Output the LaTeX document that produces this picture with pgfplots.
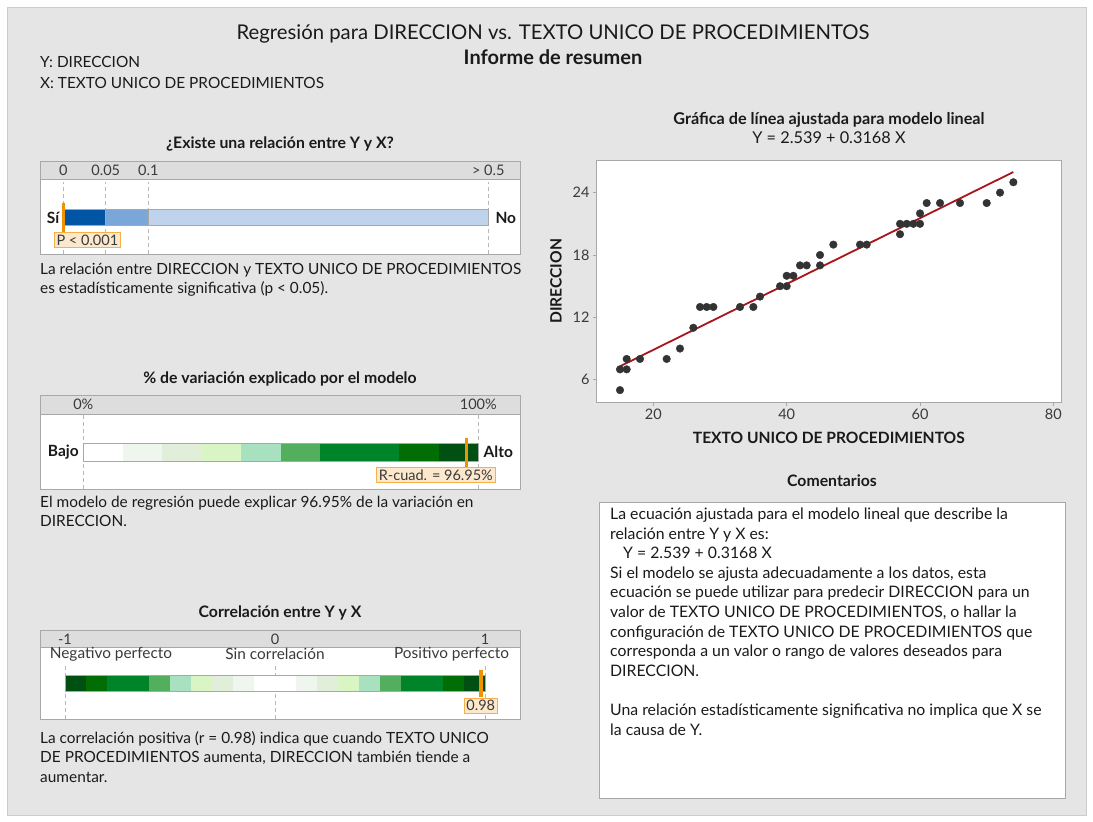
\documentclass[border=0pt]{standalone}
\usepackage{fontspec}
\setmainfont{Lato}
\usepackage{pgfplots}
\pgfplotsset{compat=1.18}
\definecolor{panel}{HTML}{E5E5E5}
\definecolor{panelline}{HTML}{CCCCCC}
\definecolor{hdr}{HTML}{DDDDDD}
\definecolor{boxline}{HTML}{A8A8A8}
\definecolor{dashc}{HTML}{B8B8B8}
\definecolor{txt}{HTML}{1A1A1A}
\definecolor{tk}{HTML}{3A3A3A}
\definecolor{mk}{HTML}{F39200}
\definecolor{mkfill}{HTML}{FCE8CC}
\definecolor{mkline}{HTML}{F6B04A}
\definecolor{bA}{HTML}{0055A5}
\definecolor{bB}{HTML}{7BA6D8}
\definecolor{bC}{HTML}{BFD3EC}
\definecolor{gA}{HTML}{EFF6EE}
\definecolor{gB}{HTML}{E1EEDA}
\definecolor{gC}{HTML}{D9F5C4}
\definecolor{gD}{HTML}{A7E1BF}
\definecolor{gE}{HTML}{53AF5D}
\definecolor{gF}{HTML}{00842A}
\definecolor{gG}{HTML}{006D05}
\definecolor{gH}{HTML}{005014}
\definecolor{ptc}{HTML}{333333}
\definecolor{fitc}{HTML}{A8151B}
\newcommand\fs[1]{\fontsize{#1}{#1}\selectfont}
\pgfplotsset{
  gauge/.style={scale only axis, anchor=south west, axis on top, xtick=\empty, ytick=\empty,
    axis line style={draw=boxline, line width=0.8pt}, axis background/.style={fill=white}, clip=false},
  dsh/.style={dashc, dash pattern=on 4pt off 3pt, line width=0.8pt},
  seg/.style={fill=#1, draw=none},
  hd/.style={fill=hdr, draw=boxline, line width=0.8pt},
  bo/.style={draw=boxline, line width=0.8pt, fill=none},
}
\tikzset{
  lab/.style={draw=mkline, fill=mkfill, line width=0.8pt, font=\fs{14.5}, text=tk, inner xsep=2.5pt, inner ysep=1pt, minimum height=15pt},
  tl/.style={font=\fs{14.5}, text=tk, inner sep=0pt},
  bt/.style={font=\bfseries\fs{15.5}, text=txt, inner sep=0pt},
  body/.style={anchor=base west, inner sep=0pt, font=\fs{15.4}, text=txt},
  cbody/.style={anchor=base west, inner sep=0pt, font=\fs{15.8}, text=txt},
  head/.style={anchor=base, inner sep=0pt, font=\bfseries\fs{15.8}, text=txt},
}
\begin{document}
\begin{tikzpicture}
\fill[white] (0pt,0pt) rectangle (1093pt,-822pt);
\filldraw[fill=panel, draw=panelline] (7pt,-7pt) rectangle (1086pt,-815pt);
\begin{scope}[x=1pt,y=-1pt]
\node[anchor=base, inner sep=0pt, font=\fs{20.3}, text=txt] at (553,39.5) {Regresión para DIRECCION vs. TEXTO UNICO DE PROCEDIMIENTOS};
\node[anchor=base, inner sep=0pt, font=\bfseries\fs{20}, text=txt] at (553,64.5) {Informe de resumen};
\node[body] at (40,67.5) {Y: DIRECCION};
\node[body] at (40,88.5) {X: TEXTO UNICO DE PROCEDIMIENTOS};
\node[head] at (280,148.5) {¿Existe una relación entre Y y X?};
\node[head] at (280,383.5) {\% de variación explicado por el modelo};
\node[head] at (280,617.5) {Correlación entre Y y X};
\node[head] at (832,486.5) {Comentarios};
\node[head, font=\bfseries\fs{16.2}] at (829,124.5) {Gráfica de línea ajustada para modelo lineal};
\node[anchor=base, inner sep=0pt, font=\fs{16.3}, text=txt] at (829,143.5) {Y = 2.539 + 0.3168 X};
\node[body] at (40,274) {La relación entre DIRECCION y TEXTO UNICO DE PROCEDIMIENTOS};
\node[body] at (40,293) {es estadísticamente significativa (p < 0.05).};
\node[body] at (40,507.5) {El modelo de regresión puede explicar 96.95\% de la variación en};
\node[body] at (40,526.5) {DIRECCION.};
\node[body] at (40,743) {La correlación positiva (r = 0.98) indica que cuando TEXTO UNICO};
\node[body] at (40,762.6) {DE PROCEDIMIENTOS aumenta, DIRECCION también tiende a};
\node[body] at (40,782.2) {aumentar.};
\filldraw[fill=white, draw=boxline, line width=0.8pt] (599,502) rectangle (1065,798);
\node[cbody] at (610,519.5) {La ecuación ajustada para el modelo lineal que describe la};
\node[cbody] at (610,539.1) {relación entre Y y X es:};
\node[cbody] at (623,558.7) {Y = 2.539 + 0.3168 X};
\node[cbody] at (610,578.3) {Si el modelo se ajusta adecuadamente a los datos, esta};
\node[cbody] at (610,597.9) {ecuación se puede utilizar para predecir DIRECCION para un};
\node[cbody] at (610,617.5) {valor de TEXTO UNICO DE PROCEDIMIENTOS, o hallar la};
\node[cbody] at (610,637.1) {configuración de TEXTO UNICO DE PROCEDIMIENTOS que};
\node[cbody] at (610,656.7) {corresponda a un valor o rango de valores deseados para};
\node[cbody] at (610,676.3) {DIRECCION.};
\node[cbody] at (610,715.5) {Una relación estadísticamente significativa no implica que X se};
\node[cbody] at (610,735.1) {la causa de Y.};
\end{scope}

% Gauge 1: p-value
\begin{axis}[gauge, at={(40pt,-254pt)}, width=480pt, height=93pt,
  xmin=-0.027412, xmax=0.537294, ymin=0, ymax=93]
\addplot[hd] coordinates {(-0.027412,75)(0.537294,75)(0.537294,93)(-0.027412,93)} -- cycle;
\addplot[dsh] coordinates {(0,0)(0,72)};
\addplot[dsh] coordinates {(0.05,0)(0.05,72)};
\addplot[dsh] coordinates {(0.1,0)(0.1,72)};
\addplot[dsh] coordinates {(0.5,0)(0.5,72)};
\addplot[fill=bA, draw=boxline, line width=0.8pt] coordinates {(0,28.3)(0.05,28.3)(0.05,44.7)(0,44.7)} -- cycle;
\addplot[fill=bB, draw=boxline, line width=0.8pt] coordinates {(0.05,28.3)(0.1,28.3)(0.1,44.7)(0.05,44.7)} -- cycle;
\addplot[fill=bC, draw=boxline, line width=0.8pt] coordinates {(0.1,28.3)(0.5,28.3)(0.5,44.7)(0.1,44.7)} -- cycle;
\addplot[mk, line width=3.5pt] coordinates {(0,22.3)(0,51.3)};
\node[lab] at (axis cs:0.0283,13.8) {P < 0.001};
\node[bt] at (axis cs:-0.0121,36.5) {Sí};
\node[bt] at (axis cs:0.5206,36.5) {No};
\node[tl] at (axis cs:0,84) {0};
\node[tl] at (axis cs:0.05,84) {0.05};
\node[tl] at (axis cs:0.1,84) {0.1};
\node[tl] at (axis cs:0.5,84) {> 0.5};
\end{axis}

% Gauge 2: R-squared
\begin{axis}[gauge, at={(40pt,-489pt)}, width=480pt, height=94pt,
  xmin=-10.962, xmax=110.557, ymin=0, ymax=94]
\addplot[hd] coordinates {(-10.962,75)(110.557,75)(110.557,94)(-10.962,94)} -- cycle;
\addplot[dsh] coordinates {(0,0)(0,75)};
\addplot[dsh] coordinates {(100,0)(100,75)};
\addplot[seg=white] coordinates {(0,28)(10,28)(10,45.7)(0,45.7)} -- cycle;
\addplot[seg=gA] coordinates {(10,28)(20,28)(20,45.7)(10,45.7)} -- cycle;
\addplot[seg=gB] coordinates {(20,28)(30,28)(30,45.7)(20,45.7)} -- cycle;
\addplot[seg=gC] coordinates {(30,28)(40,28)(40,45.7)(30,45.7)} -- cycle;
\addplot[seg=gD] coordinates {(40,28)(50,28)(50,45.7)(40,45.7)} -- cycle;
\addplot[seg=gE] coordinates {(50,28)(60,28)(60,45.7)(50,45.7)} -- cycle;
\addplot[seg=gF] coordinates {(60,28)(80,28)(80,45.7)(60,45.7)} -- cycle;
\addplot[seg=gG] coordinates {(80,28)(90,28)(90,45.7)(80,45.7)} -- cycle;
\addplot[seg=gH] coordinates {(90,28)(100,28)(100,45.7)(90,45.7)} -- cycle;
\addplot[bo] coordinates {(0,28)(100,28)(100,45.7)(0,45.7)} -- cycle;
\addplot[mk, line width=3.5pt] coordinates {(96.95,21.3)(96.95,51.3)};
\node[lab] at (axis cs:89.25,13.8) {R-cuad. = 96.95\%};
\node[bt] at (axis cs:-5.06,37) {Bajo};
\node[bt] at (axis cs:105.06,37) {Alto};
\node[tl] at (axis cs:0,84.5) {0\%};
\node[tl] at (axis cs:100,84.5) {100\%};
\end{axis}

% Gauge 3: correlation
\begin{axis}[gauge, at={(40pt,-719pt)}, width=480pt, height=89pt,
  xmin=-1.11905, xmax=1.16667, ymin=0, ymax=89]
\addplot[hd] coordinates {(-1.11905,71.3)(1.16667,71.3)(1.16667,89)(-1.11905,89)} -- cycle;
\addplot[dsh] coordinates {(-1,0)(-1,53.3)};
\addplot[dsh] coordinates {(0,0)(0,53.3)};
\addplot[dsh] coordinates {(1,0)(1,53.3)};
\addplot[seg=gH] coordinates {(-1,27.3)(-0.9,27.3)(-0.9,43.3)(-1,43.3)} -- cycle;
\addplot[seg=gG] coordinates {(-0.9,27.3)(-0.8,27.3)(-0.8,43.3)(-0.9,43.3)} -- cycle;
\addplot[seg=gF] coordinates {(-0.8,27.3)(-0.6,27.3)(-0.6,43.3)(-0.8,43.3)} -- cycle;
\addplot[seg=gE] coordinates {(-0.6,27.3)(-0.5,27.3)(-0.5,43.3)(-0.6,43.3)} -- cycle;
\addplot[seg=gD] coordinates {(-0.5,27.3)(-0.4,27.3)(-0.4,43.3)(-0.5,43.3)} -- cycle;
\addplot[seg=gC] coordinates {(-0.4,27.3)(-0.3,27.3)(-0.3,43.3)(-0.4,43.3)} -- cycle;
\addplot[seg=gB] coordinates {(-0.3,27.3)(-0.2,27.3)(-0.2,43.3)(-0.3,43.3)} -- cycle;
\addplot[seg=gA] coordinates {(-0.2,27.3)(-0.1,27.3)(-0.1,43.3)(-0.2,43.3)} -- cycle;
\addplot[seg=white] coordinates {(-0.1,27.3)(0.1,27.3)(0.1,43.3)(-0.1,43.3)} -- cycle;
\addplot[seg=gA] coordinates {(0.1,27.3)(0.2,27.3)(0.2,43.3)(0.1,43.3)} -- cycle;
\addplot[seg=gB] coordinates {(0.2,27.3)(0.3,27.3)(0.3,43.3)(0.2,43.3)} -- cycle;
\addplot[seg=gC] coordinates {(0.3,27.3)(0.4,27.3)(0.4,43.3)(0.3,43.3)} -- cycle;
\addplot[seg=gD] coordinates {(0.4,27.3)(0.5,27.3)(0.5,43.3)(0.4,43.3)} -- cycle;
\addplot[seg=gE] coordinates {(0.5,27.3)(0.6,27.3)(0.6,43.3)(0.5,43.3)} -- cycle;
\addplot[seg=gF] coordinates {(0.6,27.3)(0.8,27.3)(0.8,43.3)(0.6,43.3)} -- cycle;
\addplot[seg=gG] coordinates {(0.8,27.3)(0.9,27.3)(0.9,43.3)(0.8,43.3)} -- cycle;
\addplot[seg=gH] coordinates {(0.9,27.3)(1,27.3)(1,43.3)(0.9,43.3)} -- cycle;
\addplot[bo] coordinates {(-1,27.3)(1,27.3)(1,43.3)(-1,43.3)} -- cycle;
\addplot[mk, line width=3.5pt] coordinates {(0.98,22.3)(0.98,49)};
\node[lab] at (axis cs:0.98,13.5) {0.98};
\node[tl] at (axis cs:-1,80.2) {-1};
\node[tl] at (axis cs:0,80.2) {0};
\node[tl] at (axis cs:1,80.2) {1};
\node[tl, font=\fs{15.4}] at (axis cs:-0.781,64.7) {Negativo perfecto};
\node[tl, font=\fs{15.4}] at (axis cs:0,64.7) {Sin correlación};
\node[tl, font=\fs{15.4}] at (axis cs:0.841,64.7) {Positivo perfecto};
\end{axis}

% Scatter with fitted line
\begin{axis}[at={(596pt,-402.7pt)}, anchor=south west, scale only axis,
  width=465.7pt, height=242.7pt,
  xmin=11.4, xmax=81.25, ymin=3.79, ymax=27.14,
  xtick={20,40,60,80}, ytick={6,12,18,24},
  xtick pos=lower, ytick pos=left, tick align=outside, major tick length=3pt,
  axis line style={draw=boxline, line width=0.8pt}, tick style={draw=boxline, line width=0.8pt},
  axis background/.style={fill=white},
  ticklabel style={font=\fs{14.5}, text=tk},
  /pgf/number format/assume math mode=true,
  xlabel={TEXTO UNICO DE PROCEDIMIENTOS}, ylabel={DIRECCION},
  label style={font=\bfseries\fs{15.6}, text=txt},
  xlabel style={at={(axis description cs:0.5,-0.1463)}, anchor=center},
  ylabel style={at={(axis description cs:-0.0859,0.5)}, anchor=center},
]
\addplot[only marks, mark=*, mark size=3.8pt, mark options={fill=ptc, draw=ptc}] coordinates {
(15,5)(15,7)(16,7)(16,8)(18,8)(22,8)(24,9)(26,11)(27,13)(28,13)(29,13)(33,13)(35,13)
(36,14)(39,15)(40,15)(40,16)(41,16)(42,17)(43,17)(45,17)(45,18)(47,19)(51,19)(52,19)
(57,20)(57,21)(58,21)(59,21)(60,21)(60,22)(61,23)(63,23)(66,23)(70,23)(72,24)(74,25)};
\addplot[fitc, line width=1.8pt] coordinates {(15,7.291)(74,25.982)};
\end{axis}
\end{tikzpicture}
\end{document}
